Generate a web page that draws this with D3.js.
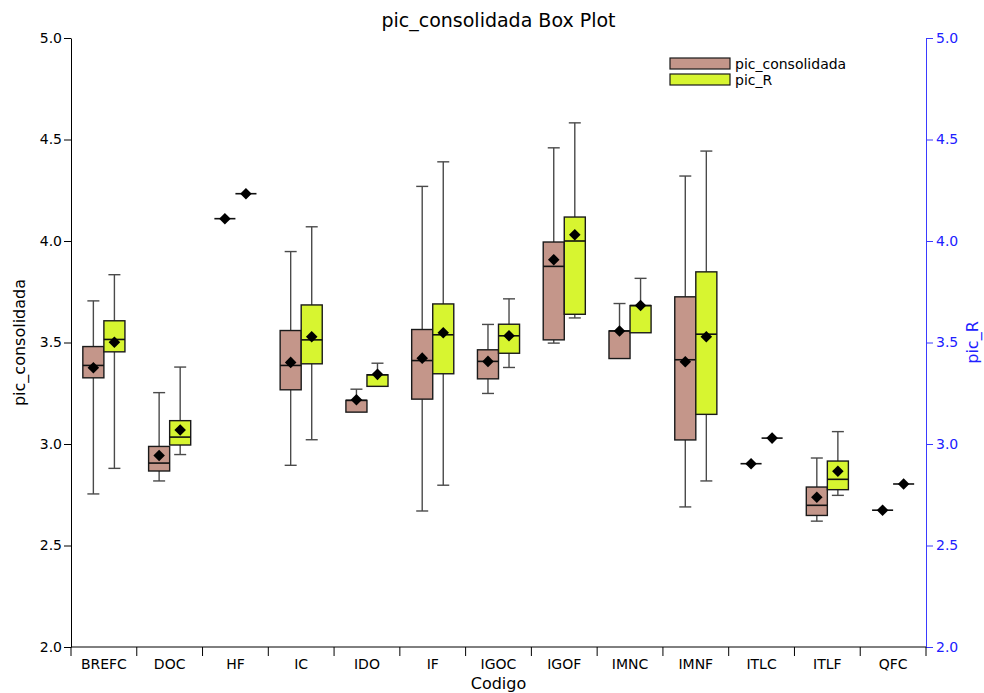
<!DOCTYPE html>
<html>
<head>
<meta charset="utf-8">
<script src="https://cdn.jsdelivr.net/npm/d3@7"></script>
<style>
  html, body { margin: 0; padding: 0; background: #fff; }
  svg text { font-family: "DejaVu Sans", sans-serif; }
</style>
</head>
<body>
<svg id="chart" width="984" height="693"></svg>
<script>
// Category codes along the x axis
const categories = ["BREFC","DOC","HF","IC","IDO","IF","IGOC","IGOF","IMNC","IMNF","ITLC","ITLF","QFC"];

// pic_consolidada (left axis) box statistics per category
const consMin  = [2.754, 2.818, 4.110, 2.895, 3.157, 2.670, 3.249, 3.497, 3.421, 2.690, 2.903, 2.620, 2.674];
const consQ1   = [3.326, 2.867, 4.110, 3.267, 3.157, 3.221, 3.321, 3.513, 3.421, 3.020, 2.903, 2.648, 2.674];
const consMed  = [3.387, 2.906, 4.110, 3.387, 3.215, 3.411, 3.407, 3.875, 3.557, 3.415, 2.903, 2.698, 2.674];
const consQ3   = [3.480, 2.988, 4.110, 3.559, 3.215, 3.564, 3.464, 3.995, 3.557, 3.725, 2.903, 2.788, 2.674];
const consMax  = [3.705, 3.253, 4.110, 3.948, 3.270, 4.269, 3.589, 4.459, 3.692, 4.320, 2.903, 2.931, 2.674];
const consMean = [3.376, 2.943, 4.110, 3.402, 3.218, 3.423, 3.407, 3.908, 3.557, 3.405, 2.903, 2.738, 2.674];

// pic_R (right axis) box statistics per category
const rMin  = [2.880, 2.948, 4.233, 3.021, 3.284, 2.797, 3.377, 3.621, 3.548, 2.818, 3.029, 2.747, 2.803];
const rQ1   = [3.454, 2.995, 4.233, 3.395, 3.284, 3.346, 3.447, 3.639, 3.548, 3.146, 3.029, 2.775, 2.803];
const rMed  = [3.515, 3.034, 4.233, 3.513, 3.341, 3.538, 3.533, 4.000, 3.682, 3.541, 3.029, 2.826, 2.803];
const rQ3   = [3.607, 3.115, 4.233, 3.685, 3.341, 3.690, 3.590, 4.118, 3.682, 3.848, 3.029, 2.916, 2.803];
const rMax  = [3.834, 3.379, 4.233, 4.070, 3.398, 4.390, 3.715, 4.582, 3.816, 4.443, 3.029, 3.061, 2.803];
const rMean = [3.501, 3.069, 4.233, 3.528, 3.343, 3.548, 3.533, 4.031, 3.682, 3.528, 3.029, 2.866, 2.803];

// Axis ticks (shared by both value axes)
const yTicks = [2.0, 2.5, 3.0, 3.5, 4.0, 4.5, 5.0];

const seriesNames = ["pic_consolidada", "pic_R"];
const seriesColors = ["#c4968a", "#d7f530"];

const svg = d3.select("#chart");
const margin = { left: 71, right: 58, top: 38, bottom: 46 };
const W = 984, H = 693;
const plotL = margin.left, plotR = W - margin.right;
const plotT = margin.top, plotB = H - margin.bottom;

const x = d3.scaleBand().domain(categories).range([plotL, plotR]).paddingInner(0).paddingOuter(0);
const yL = d3.scaleLinear().domain([2, 5]).range([plotB, plotT]);
const yR = d3.scaleLinear().domain([2, 5]).range([plotB, plotT]);

const boxW = x.bandwidth() * 0.32;
const capW = 12;

// Title
svg.append("text")
  .attr("x", (plotL + plotR) / 2).attr("y", 27)
  .attr("text-anchor", "middle").attr("font-size", 19).attr("fill", "#000")
  .text("pic_consolidada Box Plot");

// Left axis
const gL = svg.append("g").attr("transform", `translate(${plotL},0)`)
  .call(d3.axisLeft(yL).tickValues(yTicks).tickFormat(d3.format(".1f")).tickSize(7).tickSizeOuter(0));
gL.select(".domain").attr("stroke", "#000");
gL.selectAll(".tick line").attr("stroke", "#000");
gL.selectAll(".tick text").attr("font-size", 14).attr("fill", "#000").attr("font-family", "DejaVu Sans").attr("x", -9);

// Right axis
const gR = svg.append("g").attr("transform", `translate(${plotR},0)`)
  .call(d3.axisRight(yR).tickValues(yTicks).tickFormat(d3.format(".1f")).tickSize(7).tickSizeOuter(0));
gR.select(".domain").attr("stroke", "#3a3aff");
gR.selectAll(".tick line").attr("stroke", "#3a3aff");
gR.selectAll(".tick text").attr("font-size", 14).attr("fill", "#2020ff").attr("font-family", "DejaVu Sans").attr("x", 10);

// Bottom axis: ticks at category boundaries
const gB = svg.append("g").attr("transform", `translate(0,${plotB})`);
gB.append("line").attr("x1", plotL).attr("x2", plotR).attr("y1", 0).attr("y2", 0).attr("stroke", "#000");
const bounds = categories.map(c => x(c)).concat([plotR]);
gB.selectAll("line.bt").data(bounds).enter().append("line").attr("class", "bt")
  .attr("x1", d => d).attr("x2", d => d).attr("y1", 0).attr("y2", 9).attr("stroke", "#000");
gB.selectAll("text").data(categories).enter().append("text")
  .attr("x", d => x(d) + x.bandwidth() / 2).attr("y", 22)
  .attr("text-anchor", "middle").attr("font-size", 14).attr("fill", "#000")
  .text(d => d);

// Axis titles
svg.append("text").attr("x", (plotL + plotR) / 2).attr("y", 689)
  .attr("text-anchor", "middle").attr("font-size", 16).attr("fill", "#000").text("Codigo");
svg.append("text").attr("transform", `translate(25,${(plotT + plotB) / 2}) rotate(-90)`)
  .attr("text-anchor", "middle").attr("font-size", 16).attr("fill", "#000").text("pic_consolidada");
svg.append("text").attr("transform", `translate(978,${(plotT + plotB) / 2}) rotate(-90)`)
  .attr("text-anchor", "middle").attr("font-size", 16).attr("fill", "#2020ff").text("pic_R");

// Box plots
const series = [
  { name: seriesNames[0], color: seriesColors[0], y: yL, min: consMin, q1: consQ1, med: consMed, q3: consQ3, max: consMax, mean: consMean, off: -1 },
  { name: seriesNames[1], color: seriesColors[1], y: yR, min: rMin, q1: rQ1, med: rMed, q3: rQ3, max: rMax, mean: rMean, off: 0 }
];

const diamond = d3.symbol().type(d3.symbolDiamond2).size(85);

series.forEach(s => {
  const g = svg.append("g");
  categories.forEach((c, i) => {
    const cx = x(c) + x.bandwidth() / 2;
    const bx = cx + s.off * boxW;
    const mid = bx + boxW / 2;
    const y = s.y;
    const wc = "#4a4a4a";
    // upper whisker
    if (s.max[i] > s.q3[i]) {
      g.append("line").attr("x1", mid).attr("x2", mid).attr("y1", y(s.max[i])).attr("y2", y(s.q3[i])).attr("stroke", wc).attr("stroke-width", 1.4);
      g.append("line").attr("x1", mid - capW / 2).attr("x2", mid + capW / 2).attr("y1", y(s.max[i])).attr("y2", y(s.max[i])).attr("stroke", wc).attr("stroke-width", 1.4);
    }
    // lower whisker
    if (s.min[i] < s.q1[i]) {
      g.append("line").attr("x1", mid).attr("x2", mid).attr("y1", y(s.q1[i])).attr("y2", y(s.min[i])).attr("stroke", wc).attr("stroke-width", 1.4);
      g.append("line").attr("x1", mid - capW / 2).attr("x2", mid + capW / 2).attr("y1", y(s.min[i])).attr("y2", y(s.min[i])).attr("stroke", wc).attr("stroke-width", 1.4);
    }
    if (s.q3[i] > s.q1[i]) {
      g.append("rect").attr("x", bx).attr("width", boxW)
        .attr("y", y(s.q3[i])).attr("height", y(s.q1[i]) - y(s.q3[i]))
        .attr("fill", s.color).attr("stroke", "#1a1a1a").attr("stroke-width", 1.4);
    }
    // median line (also the flat mark for single-value groups)
    g.append("line").attr("x1", bx).attr("x2", bx + boxW).attr("y1", y(s.med[i])).attr("y2", y(s.med[i]))
      .attr("stroke", "#111").attr("stroke-width", 1.6);
    // mean marker
    g.append("path").attr("d", diamond).attr("transform", `translate(${mid},${y(s.mean[i])})`).attr("fill", "#000");
  });
});

// Legend
const lg = svg.append("g");
seriesNames.forEach((n, i) => {
  lg.append("rect").attr("x", 670).attr("y", 58 + i * 16).attr("width", 60).attr("height", 11)
    .attr("fill", seriesColors[i]).attr("stroke", "#1a1a1a").attr("stroke-width", 1.2);
  lg.append("text").attr("x", 735).attr("y", 69 + i * 16).attr("font-size", 14)
    .attr("font-family", "Liberation Sans, Arial, sans-serif").attr("fill", "#000").text(n);
});
</script>
</body>
</html>
